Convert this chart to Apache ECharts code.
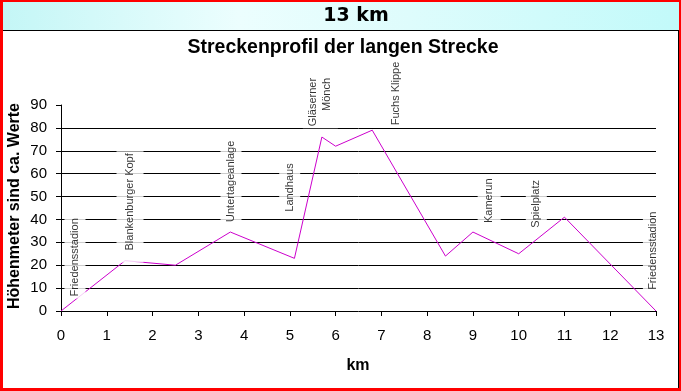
<!DOCTYPE html>
<html>
<head>
<meta charset="utf-8">
<script src="https://cdn.jsdelivr.net/npm/echarts@6/dist/echarts.min.js"></script>
<style>
html,body{margin:0;padding:0;background:#fff;}
#c{width:681px;height:391px;}
</style>
</head>
<body>
<div id="c"></div>
<script>
// ---- data ----
const km    = [0, 1.4, 2.5, 3.7, 5.1, 5.7, 6.0, 6.8, 8.4, 9.0, 10.0, 11.0, 13.0];
const hoehe = [0, 22, 20, 34.5, 23, 76, 72, 79, 24, 34.5, 25, 41, 0];
const orte  = ['Friedensstadion', 'Blankenburger Kopf', 'Untertageanlage', 'Landhaus',
               'Gläserner\nMönch', 'Fuchs Klippe', 'Kamerun', 'Spielplatz', 'Friedensstadion'];
const xTicks = [0,1,2,3,4,5,6,7,8,9,10,11,12,13];
const yTicks = [0,10,20,30,40,50,60,70,80,90];
const kopfText = '13 km';
const titelText = 'Streckenprofil der langen Strecke';
const yTitel = 'Höhenmeter sind ca. Werte';
const xTitel = 'km';

// ---- layout: label anchors (top end of each rotated label) in data units, and box paddings ----
const labelAnker = [[0.306, 41.4], [1.508, 69.8], [3.714, 75.3], [4.997, 65.4],
                    [5.667, 102.7], [7.319, 109.8], [9.355, 58.8], [10.385, 58.1], [12.943, 44.3]];
const stdPadding = [3.5, 2, 3.5, 2];
const labelPadding = [stdPadding, [6.5, 2, 6.5, 12], stdPadding, stdPadding,
                      stdPadding, stdPadding, [4.5, 2, 4.5, 2], stdPadding, stdPadding];

const FONT = 'Liberation Sans, Arial, sans-serif';
const chart = echarts.init(document.getElementById('c'), null, {renderer: 'canvas'});

const option = {
  animation: false,
  backgroundColor: '#ff0000',
  grid: {left: 61, right: 25, top: 105, bottom: 80, containLabel: false},
  xAxis: {
    type: 'value', min: xTicks[0], max: xTicks[xTicks.length - 1], interval: 1,
    axisLine: {show: true, lineStyle: {color: '#000', width: 1}},
    axisTick: {show: true, length: 5, lineStyle: {color: '#000'}},
    axisLabel: {color: '#000', fontSize: 15, fontFamily: FONT, margin: 17},
    splitLine: {show: false}
  },
  yAxis: {
    type: 'value', min: yTicks[0], max: yTicks[yTicks.length - 1], interval: 10,
    axisLine: {show: true, lineStyle: {color: '#000', width: 1}},
    axisTick: {show: true, length: 5, lineStyle: {color: '#000'}},
    axisLabel: {color: '#000', fontSize: 15, fontFamily: FONT, margin: 14},
    splitLine: {show: true, showMinLine: false, showMaxLine: false, lineStyle: {color: '#000', width: 1}}
  },
  graphic: [
    {type: 'rect', z: -10, shape: {x: 3, y: 2, width: 676, height: 386}, style: {fill: '#fff'}, silent: true},
    {type: 'rect', z: -9, shape: {x: 3, y: 2, width: 676, height: 28}, silent: true,
      style: {fill: new echarts.graphic.LinearGradient(0, 0, 1, 0.3, [
        {offset: 0, color: '#c4f6f6'}, {offset: 0.35, color: '#ecfefe'},
        {offset: 0.6, color: '#defCfC'}, {offset: 1, color: '#c2fafa'}])}},
    {type: 'line', z: 100, shape: {x1: 3, y1: 30.5, x2: 679, y2: 30.5}, style: {stroke: '#000', lineWidth: 1}, silent: true},
    {type: 'line', z: 100, shape: {x1: 678.5, y1: 30, x2: 678.5, y2: 388}, style: {stroke: '#000', lineWidth: 1}, silent: true},
    {type: 'text', z: 100, x: 356, y: 16, silent: true,
      style: {text: kopfText, font: 'bold 19px DejaVu Sans, Verdana, sans-serif', fill: '#000', textAlign: 'center', textVerticalAlign: 'middle'}},
    {type: 'text', z: 100, x: 343, y: 48, silent: true,
      style: {text: titelText, font: 'bold 19.5px ' + FONT, fill: '#000', textAlign: 'center', textVerticalAlign: 'middle'}},
    {type: 'text', z: 100, x: 15, y: 206, rotation: Math.PI / 2, silent: true,
      style: {text: yTitel, font: 'bold 16px ' + FONT, fill: '#000', textAlign: 'center', textVerticalAlign: 'middle'}},
    {type: 'text', z: 100, x: 358, y: 366, silent: true,
      style: {text: xTitel, font: 'bold 16px ' + FONT, fill: '#000', textAlign: 'center', textVerticalAlign: 'middle'}}
  ],
  series: [
    {
      type: 'line', z: 2, silent: true, symbol: 'none',
      data: km.map((k, i) => [k, hoehe[i]]),
      lineStyle: {color: '#cc00cc', width: 1}
    },
    {
      type: 'scatter', z: 5, silent: true, clip: false, symbolSize: 1,
      itemStyle: {color: 'rgba(0,0,0,0)'},
      data: orte.map((n, i) => ({name: n, value: labelAnker[i], label: {padding: labelPadding[i]}})),
      label: {
        show: true, position: 'inside', rotate: 90, align: 'right', verticalAlign: 'middle',
        formatter: p => p.name,
        color: '#000', fontSize: 11, fontFamily: FONT, lineHeight: 14,
        backgroundColor: '#fff'
      },
      labelLayout: {hideOverlap: false}
    }
  ]
};
chart.setOption(option);
</script>
</body>
</html>
